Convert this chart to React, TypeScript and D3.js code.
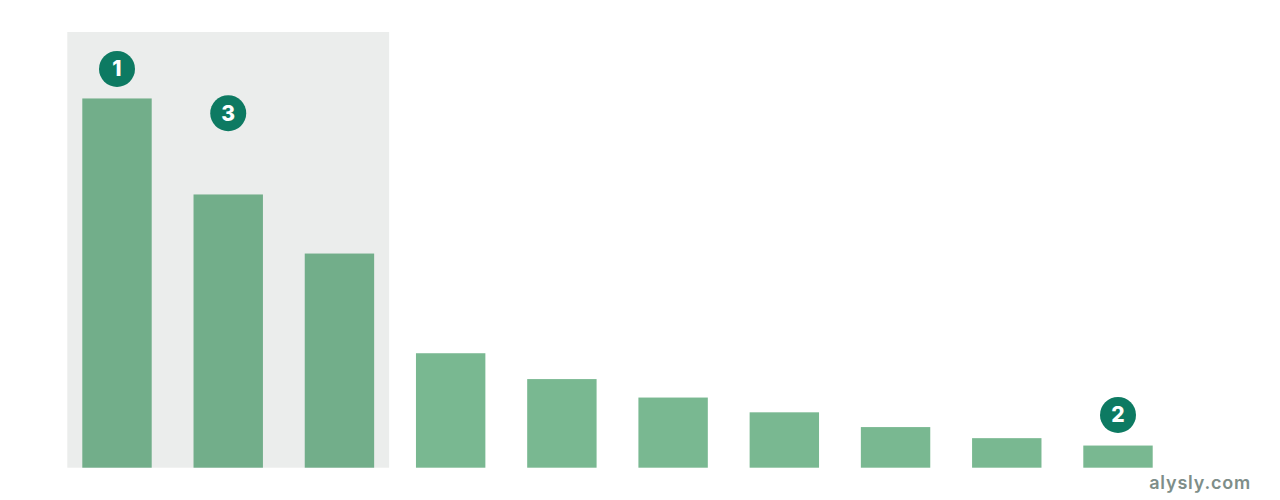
import React from "react";
import * as d3 from "d3";

const categories = ["A", "B", "C", "D", "E", "F", "G", "H", "I", "J"];
const values = [100, 74, 58, 31, 24, 19, 15, 11, 8, 6];
const highlighted = ["A", "B", "C"];
const badges = [
  { label: "1", category: "A", value: 108 },
  { label: "3", category: "B", value: 96 },
  { label: "2", category: "J", value: 14.3 },
];

const W = 1280;
const H = 500;
const margin = { top: 32, bottom: 32.3, left: 82.3, right: 127.3 };

export default function App() {
  const x = d3
    .scaleBand<string>()
    .domain(categories)
    .range([margin.left, W - margin.right])
    .paddingInner(0.376)
    .paddingOuter(0);
  const y = d3
    .scaleLinear()
    .domain([0, 118])
    .range([H - margin.bottom, margin.top]);

  const hx0 = (x(highlighted[0]) ?? 0) - 15;
  const hx1 = (x(highlighted[highlighted.length - 1]) ?? 0) + x.bandwidth() + 15;

  return (
    <div style={{ position: "fixed", left: 0, top: 0 }}>
      <svg width={W} height={H} style={{ display: "block", background: "#fff" }}>
        <rect
          x={hx0}
          y={y(118)}
          width={hx1 - hx0}
          height={y(0) - y(118)}
          fill="#ebedec"
        />
        {categories.map((c, i) => (
          <rect
            key={c}
            x={x(c)}
            y={y(values[i])}
            width={x.bandwidth()}
            height={y(0) - y(values[i])}
            fill={highlighted.includes(c) ? "#72ae8a" : "#79b891"}
          />
        ))}
        {badges.map((b) => {
          const cx = (x(b.category) ?? 0) + x.bandwidth() / 2;
          const cy = y(b.value);
          return (
            <g key={b.label}>
              <circle cx={cx} cy={cy} r={18} fill="#0d7a62" />
              <text
                x={cx}
                y={cy}
                dy="0.36em"
                textAnchor="middle"
                fill="#ffffff"
                fontFamily="Inter, 'Noto Sans', sans-serif"
                fontWeight={800}
                fontSize={21}
              >
                {b.label}
              </text>
            </g>
          );
        })}
        <text
          x={1251}
          y={489}
          textAnchor="end"
          fill="#7e8e89"
          fontFamily="Inter, 'Noto Sans', sans-serif"
          fontWeight={600}
          fontSize={18}
          letterSpacing={0.8}
        >
          alysly.com
        </text>
      </svg>
    </div>
  );
}
